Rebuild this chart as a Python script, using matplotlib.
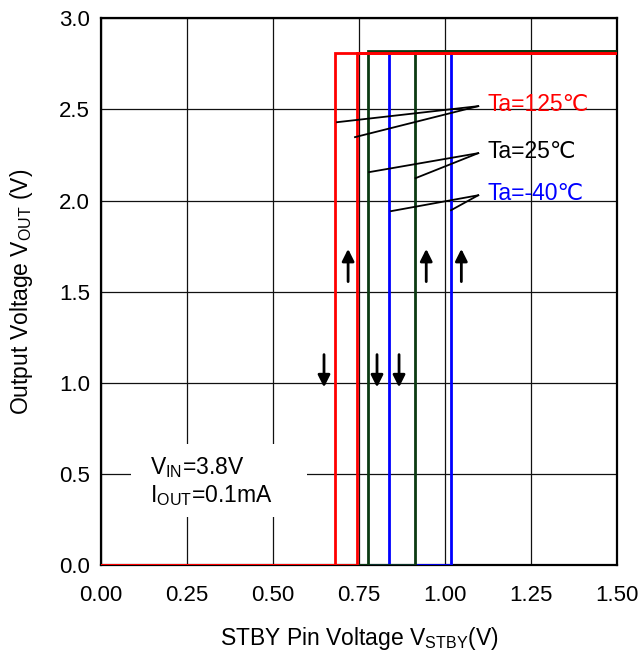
import matplotlib
matplotlib.use("Agg")
import matplotlib.pyplot as plt
from matplotlib.patches import Rectangle

plt.rcParams['font.family'] = ['Liberation Sans', 'DejaVu Sans']
plt.rcParams['mathtext.fontset'] = 'custom'
plt.rcParams['mathtext.rm'] = 'Liberation Sans'

# hysteresis thresholds
labels = ['Ta=125℃', 'Ta=25℃', 'Ta=-40℃']
colors = ['#FF0000', '#0B3A12', '#0000FF']
v_rise = [0.744, 0.913, 1.017]
v_fall = [0.680, 0.776, 0.837]
v_high = [2.81, 2.82, 2.81]
x_max = 1.5

xticks = [0.00, 0.25, 0.50, 0.75, 1.00, 1.25, 1.50]
yticks = [0.0, 0.5, 1.0, 1.5, 2.0, 2.5, 3.0]

fig = plt.figure(figsize=(6.43, 6.54), dpi=100)
ax = fig.add_axes([0.157, 0.136, 0.803, 0.836])

# draw blue first, red last (red sits on top)
for i in [2, 1, 0]:
    ax.plot([0, v_rise[i], v_rise[i], x_max], [0, 0, v_high[i], v_high[i]],
            color=colors[i], lw=2, zorder=3, solid_joinstyle='miter')
    ax.plot([x_max, v_fall[i], v_fall[i], 0], [v_high[i], v_high[i], 0, 0],
            color=colors[i], lw=2, zorder=3, solid_joinstyle='miter')

ax.set_xlim(0, 1.5)
ax.set_ylim(0, 3.0)
ax.set_xticks(xticks)
ax.set_yticks(yticks)
ax.set_xticklabels([f"{t:.2f}" for t in xticks])
ax.set_yticklabels([f"{t:.1f}" for t in yticks])
ax.tick_params(length=0, labelsize=16)
ax.tick_params(axis='x', pad=14)
ax.tick_params(axis='y', pad=8)
ax.grid(True, color='#111111', lw=0.9)
ax.set_axisbelow(True)
for s in ax.spines.values():
    s.set_linewidth(1.6)
    s.set_color('black')

ax.set_xlabel(r"STBY Pin Voltage V$_{\mathregular{STBY}}$(V)", fontsize=16.5, labelpad=14)
ax.set_ylabel(r"Output Voltage V$_{\mathregular{OUT}}$ (V)", fontsize=16.5, labelpad=17)

# leader lines to the temperature labels
anchors_y = [2.518, 2.26, 2.029]
targets = [[(0.686, 2.430), (0.738, 2.348)],
           [(0.779, 2.156), (0.914, 2.123)],
           [(0.843, 1.942), (1.017, 1.947)]]
for i in range(3):
    for tx, ty in targets[i]:
        ax.plot([1.096, tx], [anchors_y[i], ty], color='black', lw=1.3, zorder=4)
    ax.text(1.122, anchors_y[i] + 0.01, labels[i], color='black' if i == 1 else colors[i],
            fontsize=16.5, va='center', ha='left', zorder=5)

# direction arrows
up_x = [0.718, 0.945, 1.047]
down_x = [0.648, 0.802, 0.866]
for x in up_x:
    ax.annotate('', xy=(x, 1.75), xytext=(x, 1.54),
                arrowprops=dict(arrowstyle='-|>', color='black', lw=2, mutation_scale=18))
for x in down_x:
    ax.annotate('', xy=(x, 0.96), xytext=(x, 1.17),
                arrowprops=dict(arrowstyle='-|>', color='black', lw=2, mutation_scale=18))

# condition box (white patch hides the grid)
ax.add_patch(Rectangle((0.087, 0.263), 0.512, 0.401, fc='white', ec='none', zorder=2))
ax.text(0.142, 0.346, "V$_{\\mathregular{IN}}$=3.8V\nI$_{\\mathregular{OUT}}$=0.1mA",
        fontsize=16.5, va='baseline', ha='left', zorder=5, linespacing=1.15)

fig.savefig("out.png", dpi=100, facecolor='w')
